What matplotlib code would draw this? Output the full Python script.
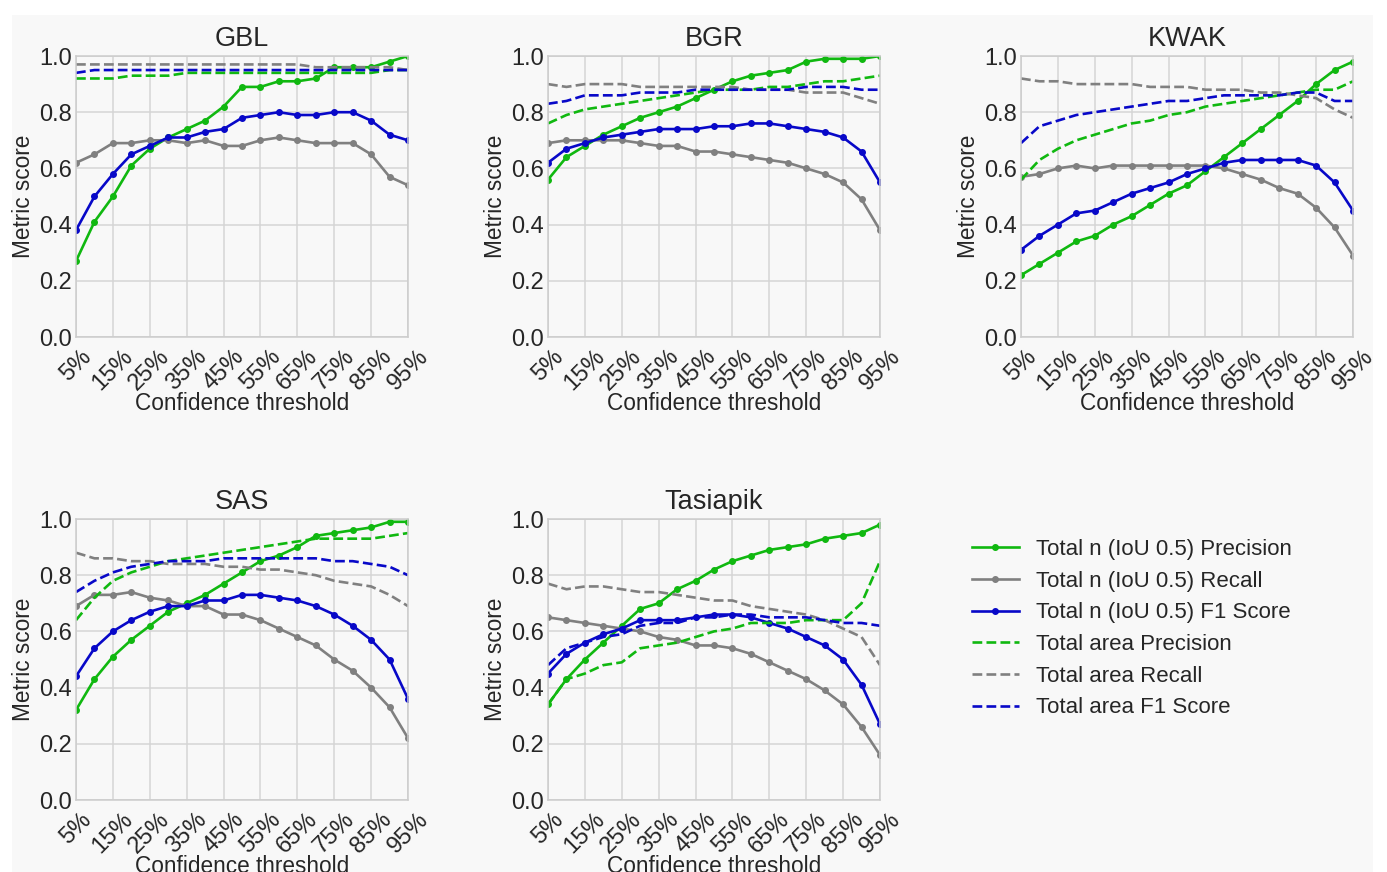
import matplotlib
matplotlib.use("Agg")
import matplotlib.pyplot as plt
from matplotlib.patches import Rectangle

plt.rcParams['font.family'] = ['Liberation Sans', 'DejaVu Sans']

thresholds = [5, 10, 15, 20, 25, 30, 35, 40, 45, 50, 55, 60, 65, 70, 75, 80, 85, 90, 95]
tick_positions = [5, 15, 25, 35, 45, 55, 65, 75, 85, 95]
tick_labels = ["5%", "15%", "25%", "35%", "45%", "55%", "65%", "75%", "85%", "95%"]

sites = ["GBL", "BGR", "KWAK", "SAS", "Tasiapik"]

# Per-site series: n precision, n recall, n F1, area precision, area recall, area F1
gbl_n_prec = [0.27, 0.41, 0.50, 0.61, 0.67, 0.71, 0.74, 0.77, 0.82, 0.89, 0.89, 0.91, 0.91, 0.92, 0.96, 0.96, 0.96, 0.98, 1.00]
gbl_n_rec = [0.62, 0.65, 0.69, 0.69, 0.70, 0.70, 0.69, 0.70, 0.68, 0.68, 0.70, 0.71, 0.70, 0.69, 0.69, 0.69, 0.65, 0.57, 0.54]
gbl_n_f1 = [0.38, 0.50, 0.58, 0.65, 0.68, 0.71, 0.71, 0.73, 0.74, 0.78, 0.79, 0.80, 0.79, 0.79, 0.80, 0.80, 0.77, 0.72, 0.70]
gbl_a_prec = [0.92, 0.92, 0.92, 0.93, 0.93, 0.93, 0.94, 0.94, 0.94, 0.94, 0.94, 0.94, 0.94, 0.94, 0.94, 0.94, 0.94, 0.95, 0.95]
gbl_a_rec = [0.97, 0.97, 0.97, 0.97, 0.97, 0.97, 0.97, 0.97, 0.97, 0.97, 0.97, 0.97, 0.97, 0.96, 0.96, 0.96, 0.96, 0.96, 0.95]
gbl_a_f1 = [0.94, 0.95, 0.95, 0.95, 0.95, 0.95, 0.95, 0.95, 0.95, 0.95, 0.95, 0.95, 0.95, 0.95, 0.95, 0.95, 0.95, 0.95, 0.95]

bgr_n_prec = [0.56, 0.64, 0.68, 0.72, 0.75, 0.78, 0.80, 0.82, 0.85, 0.88, 0.91, 0.93, 0.94, 0.95, 0.98, 0.99, 0.99, 0.99, 1.00]
bgr_n_rec = [0.69, 0.70, 0.70, 0.70, 0.70, 0.69, 0.68, 0.68, 0.66, 0.66, 0.65, 0.64, 0.63, 0.62, 0.60, 0.58, 0.55, 0.49, 0.38]
bgr_n_f1 = [0.62, 0.67, 0.69, 0.71, 0.72, 0.73, 0.74, 0.74, 0.74, 0.75, 0.75, 0.76, 0.76, 0.75, 0.74, 0.73, 0.71, 0.66, 0.55]
bgr_a_prec = [0.76, 0.79, 0.81, 0.82, 0.83, 0.84, 0.85, 0.86, 0.87, 0.88, 0.88, 0.88, 0.89, 0.89, 0.90, 0.91, 0.91, 0.92, 0.93]
bgr_a_rec = [0.90, 0.89, 0.90, 0.90, 0.90, 0.89, 0.89, 0.89, 0.89, 0.89, 0.89, 0.88, 0.88, 0.88, 0.87, 0.87, 0.87, 0.85, 0.83]
bgr_a_f1 = [0.83, 0.84, 0.86, 0.86, 0.86, 0.87, 0.87, 0.87, 0.88, 0.88, 0.88, 0.88, 0.88, 0.88, 0.89, 0.89, 0.89, 0.88, 0.88]

kwak_n_prec = [0.22, 0.26, 0.30, 0.34, 0.36, 0.40, 0.43, 0.47, 0.51, 0.54, 0.59, 0.64, 0.69, 0.74, 0.79, 0.84, 0.90, 0.95, 0.98]
kwak_n_rec = [0.57, 0.58, 0.60, 0.61, 0.60, 0.61, 0.61, 0.61, 0.61, 0.61, 0.61, 0.60, 0.58, 0.56, 0.53, 0.51, 0.46, 0.39, 0.29]
kwak_n_f1 = [0.31, 0.36, 0.40, 0.44, 0.45, 0.48, 0.51, 0.53, 0.55, 0.58, 0.60, 0.62, 0.63, 0.63, 0.63, 0.63, 0.61, 0.55, 0.45]
kwak_a_prec = [0.56, 0.63, 0.67, 0.70, 0.72, 0.74, 0.76, 0.77, 0.79, 0.80, 0.82, 0.83, 0.84, 0.85, 0.86, 0.87, 0.88, 0.88, 0.91]
kwak_a_rec = [0.92, 0.91, 0.91, 0.90, 0.90, 0.90, 0.90, 0.89, 0.89, 0.89, 0.88, 0.88, 0.88, 0.87, 0.87, 0.86, 0.85, 0.81, 0.78]
kwak_a_f1 = [0.69, 0.75, 0.77, 0.79, 0.80, 0.81, 0.82, 0.83, 0.84, 0.84, 0.85, 0.86, 0.86, 0.86, 0.86, 0.87, 0.87, 0.84, 0.84]

sas_n_prec = [0.32, 0.43, 0.51, 0.57, 0.62, 0.67, 0.70, 0.73, 0.77, 0.81, 0.85, 0.87, 0.90, 0.94, 0.95, 0.96, 0.97, 0.99, 0.99]
sas_n_rec = [0.69, 0.73, 0.73, 0.74, 0.72, 0.71, 0.69, 0.69, 0.66, 0.66, 0.64, 0.61, 0.58, 0.55, 0.50, 0.46, 0.40, 0.33, 0.22]
sas_n_f1 = [0.44, 0.54, 0.60, 0.64, 0.67, 0.69, 0.69, 0.71, 0.71, 0.73, 0.73, 0.72, 0.71, 0.69, 0.66, 0.62, 0.57, 0.50, 0.36]
sas_a_prec = [0.64, 0.72, 0.78, 0.81, 0.83, 0.85, 0.86, 0.87, 0.88, 0.89, 0.90, 0.91, 0.92, 0.93, 0.93, 0.93, 0.93, 0.94, 0.95]
sas_a_rec = [0.88, 0.86, 0.86, 0.85, 0.85, 0.84, 0.84, 0.84, 0.83, 0.83, 0.82, 0.82, 0.81, 0.80, 0.78, 0.77, 0.76, 0.73, 0.69]
sas_a_f1 = [0.74, 0.78, 0.81, 0.83, 0.84, 0.85, 0.85, 0.85, 0.86, 0.86, 0.86, 0.86, 0.86, 0.86, 0.85, 0.85, 0.84, 0.83, 0.80]

tas_n_prec = [0.34, 0.43, 0.50, 0.56, 0.62, 0.68, 0.70, 0.75, 0.78, 0.82, 0.85, 0.87, 0.89, 0.90, 0.91, 0.93, 0.94, 0.95, 0.98]
tas_n_rec = [0.65, 0.64, 0.63, 0.62, 0.61, 0.60, 0.58, 0.57, 0.55, 0.55, 0.54, 0.52, 0.49, 0.46, 0.43, 0.39, 0.34, 0.26, 0.16]
tas_n_f1 = [0.45, 0.52, 0.56, 0.59, 0.61, 0.64, 0.64, 0.64, 0.65, 0.66, 0.66, 0.65, 0.63, 0.61, 0.58, 0.55, 0.50, 0.41, 0.27]
tas_a_prec = [0.34, 0.43, 0.45, 0.48, 0.49, 0.54, 0.55, 0.56, 0.58, 0.60, 0.61, 0.63, 0.63, 0.63, 0.64, 0.64, 0.64, 0.70, 0.85]
tas_a_rec = [0.77, 0.75, 0.76, 0.76, 0.75, 0.74, 0.74, 0.73, 0.72, 0.71, 0.71, 0.69, 0.68, 0.67, 0.66, 0.64, 0.61, 0.58, 0.48]
tas_a_f1 = [0.48, 0.54, 0.56, 0.58, 0.59, 0.62, 0.63, 0.63, 0.65, 0.65, 0.66, 0.66, 0.65, 0.65, 0.65, 0.64, 0.63, 0.63, 0.62]

series_labels = ["Total n (IoU 0.5) Precision", "Total n (IoU 0.5) Recall", "Total n (IoU 0.5) F1 Score",
                 "Total area Precision", "Total area Recall", "Total area F1 Score"]

site_data = {
    "GBL": [gbl_n_prec, gbl_n_rec, gbl_n_f1, gbl_a_prec, gbl_a_rec, gbl_a_f1],
    "BGR": [bgr_n_prec, bgr_n_rec, bgr_n_f1, bgr_a_prec, bgr_a_rec, bgr_a_f1],
    "KWAK": [kwak_n_prec, kwak_n_rec, kwak_n_f1, kwak_a_prec, kwak_a_rec, kwak_a_f1],
    "SAS": [sas_n_prec, sas_n_rec, sas_n_f1, sas_a_prec, sas_a_rec, sas_a_f1],
    "Tasiapik": [tas_n_prec, tas_n_rec, tas_n_f1, tas_a_prec, tas_a_rec, tas_a_f1],
}

colors = ["#10b810", "#808080", "#0808c8", "#10b810", "#808080", "#0808c8"]
styles = ["-", "-", "-", "--", "--", "--"]
markers = ["o", "o", "o", None, None, None]

W, H = 1387, 872
fig = plt.figure(figsize=(W / 100, H / 100), dpi=100, facecolor="white")
bg = "#f8f8f8"
fig.patches.append(Rectangle((12 / W, 0), (1373 - 12) / W, (H - 15) / H,
                             transform=fig.transFigure, facecolor=bg, edgecolor="none", zorder=-10))

lefts = [76, 548, 1021]
aw = 332
ah = 281
tops = [56, 519]
positions = [(lefts[0], tops[0]), (lefts[1], tops[0]), (lefts[2], tops[0]),
             (lefts[0], tops[1]), (lefts[1], tops[1])]

handles = []
for site, (lx, ty) in zip(sites, positions):
    ax = fig.add_axes([lx / W, 1 - (ty + ah) / H, aw / W, ah / H])
    ax.set_facecolor(bg)
    for vals, c, ls, mk, lab in zip(site_data[site], colors, styles, markers, series_labels):
        ln, = ax.plot(thresholds, vals, color=c, linestyle=ls, marker=mk, markersize=4,
                      linewidth=1.9, label=lab, clip_on=True)
        if site == "GBL":
            handles.append(ln)
    ax.set_xlim(5, 95)
    ax.set_ylim(0, 1.0)
    ax.set_yticks([0.0, 0.2, 0.4, 0.6, 0.8, 1.0])
    ax.set_yticklabels(["0.0", "0.2", "0.4", "0.6", "0.8", "1.0"])
    ax.set_xticks(tick_positions)
    ax.set_xticklabels(tick_labels, rotation=45, ha="center")
    ax.tick_params(axis="both", labelsize=17, length=0, colors="#262626")
    ax.tick_params(axis="y", pad=3)
    ax.tick_params(axis="x", pad=6)
    ax.grid(True, color="#d5d5d5", linewidth=1.1)
    ax.set_axisbelow(True)
    for sp in ax.spines.values():
        sp.set_color("#cccccc")
        sp.set_linewidth(1.1)
    ax.set_title(site, fontsize=19.5, color="#262626", pad=7)
    ax.set_xlabel("Confidence threshold", fontsize=16.3, color="#262626", labelpad=-1.5)
    ax.set_ylabel("Metric score", fontsize=16.3, color="#262626", labelpad=3)

leg = fig.legend(handles, series_labels, loc="upper left",
                 bbox_to_anchor=(952 / W, 1 - 519 / H), frameon=False,
                 fontsize=16, handlelength=2.1, labelspacing=0.48, handletextpad=0.8)
for t in leg.get_texts():
    t.set_color("#262626")

fig.savefig("out.png", dpi=100, facecolor=fig.get_facecolor())
